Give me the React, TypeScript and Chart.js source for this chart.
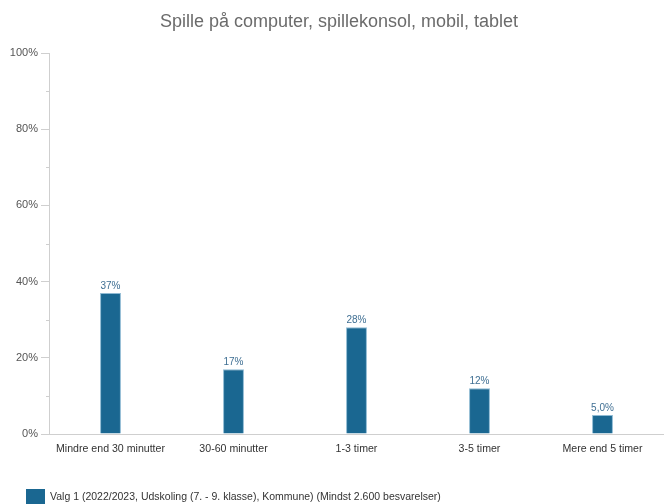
import React, { useEffect, useRef } from "react";
import { Chart, registerables } from "chart.js";

Chart.register(...registerables);

const categories = ["Mindre end 30 minutter", "30-60 minutter", "1-3 timer", "3-5 timer", "Mere end 5 timer"];
const values = [37, 17, 28, 12, 5.0];
const valueLabels = ["37%", "17%", "28%", "12%", "5,0%"];
const majorTicks = [0, 20, 40, 60, 80, 100];
const minorTicks = [10, 30, 50, 70, 90];
const titleText = "Spille på computer, spillekonsol, mobil, tablet";
const seriesName = "Valg 1 (2022/2023, Udskoling (7. - 9. klasse), Kommune) (Mindst 2.600 besvarelser)";

const FONT = "'Liberation Sans', Arial, sans-serif";
const BAR = "#1a6791";

const decor = {
  id: "decor",
  afterDraw(chart: any) {
    const ctx = chart.ctx;
    const y = chart.scales.y;
    const x = chart.scales.x;
    ctx.save();
    // minor ticks
    ctx.strokeStyle = "#cfcfcf";
    ctx.lineWidth = 1;
    minorTicks.forEach((v) => {
      const py = Math.round(y.getPixelForValue(v)) + 0.5;
      ctx.beginPath();
      ctx.moveTo(x.left - 3, py);
      ctx.lineTo(x.left, py);
      ctx.stroke();
    });
    // title
    ctx.fillStyle = "#6b6b6b";
    ctx.font = `18px ${FONT}`;
    ctx.textAlign = "center";
    ctx.textBaseline = "middle";
    ctx.fillText(titleText, 339, 22);
    // value labels
    const meta = chart.getDatasetMeta(0);
    ctx.fillStyle = "#3f6f93";
    ctx.font = `10px ${FONT}`;
    ctx.textBaseline = "alphabetic";
    meta.data.forEach((bar: any, i: number) => {
      ctx.fillText(valueLabels[i], bar.x, bar.y - 4);
    });
    // legend
    ctx.fillStyle = BAR;
    ctx.fillRect(26, 489, 19, 15);
    ctx.fillStyle = "#333";
    ctx.font = `10.5px ${FONT}`;
    ctx.textAlign = "left";
    ctx.textBaseline = "middle";
    ctx.fillText(seriesName, 50, 497);
    ctx.restore();
  },
};

export default function App() {
  const ref = useRef<HTMLCanvasElement>(null);
  useEffect(() => {
    const chart = new Chart(ref.current!, {
      type: "bar",
      data: {
        labels: categories,
        datasets: [
          {
            label: seriesName,
            data: values,
            backgroundColor: BAR,
            borderColor: "#8fbad3",
            borderWidth: 1,
            barPercentage: 0.17,
            categoryPercentage: 1,
          },
        ],
      },
      options: {
        animation: false,
        responsive: false,
        devicePixelRatio: 1,
        layout: { padding: { left: 0, right: 0, top: 53, bottom: 40 } },
        plugins: { legend: { display: false }, title: { display: false }, tooltip: { enabled: false } },
        scales: {
          x: {
            grid: { display: false },
            border: { display: true, color: "#cfcfcf" },
            ticks: { color: "#333", font: { family: FONT, size: 10.6 }, padding: 1, maxRotation: 0, autoSkip: false },
            afterFit: (s: any) => { s.height = 30; },
          },
          y: {
            min: 0,
            max: 100,
            afterBuildTicks: (s: any) => { s.ticks = majorTicks.map((v) => ({ value: v })); },
            ticks: { color: "#555", font: { family: FONT, size: 11 }, padding: 3, callback: (v: any) => v + "%" },
            grid: { drawOnChartArea: false, tickLength: 8, color: "#cfcfcf" },
            border: { display: true, color: "#cfcfcf" },
            afterFit: (s: any) => { s.width = 49; },
          },
        },
      },
      plugins: [decor],
    });
    return () => chart.destroy();
  }, []);
  return (
    <div style={{ position: "fixed", left: 0, top: 0, width: 664, height: 504, background: "#fff" }}>
      <canvas ref={ref} width={664} height={504} style={{ width: 664, height: 504, display: "block" }} />
    </div>
  );
}
